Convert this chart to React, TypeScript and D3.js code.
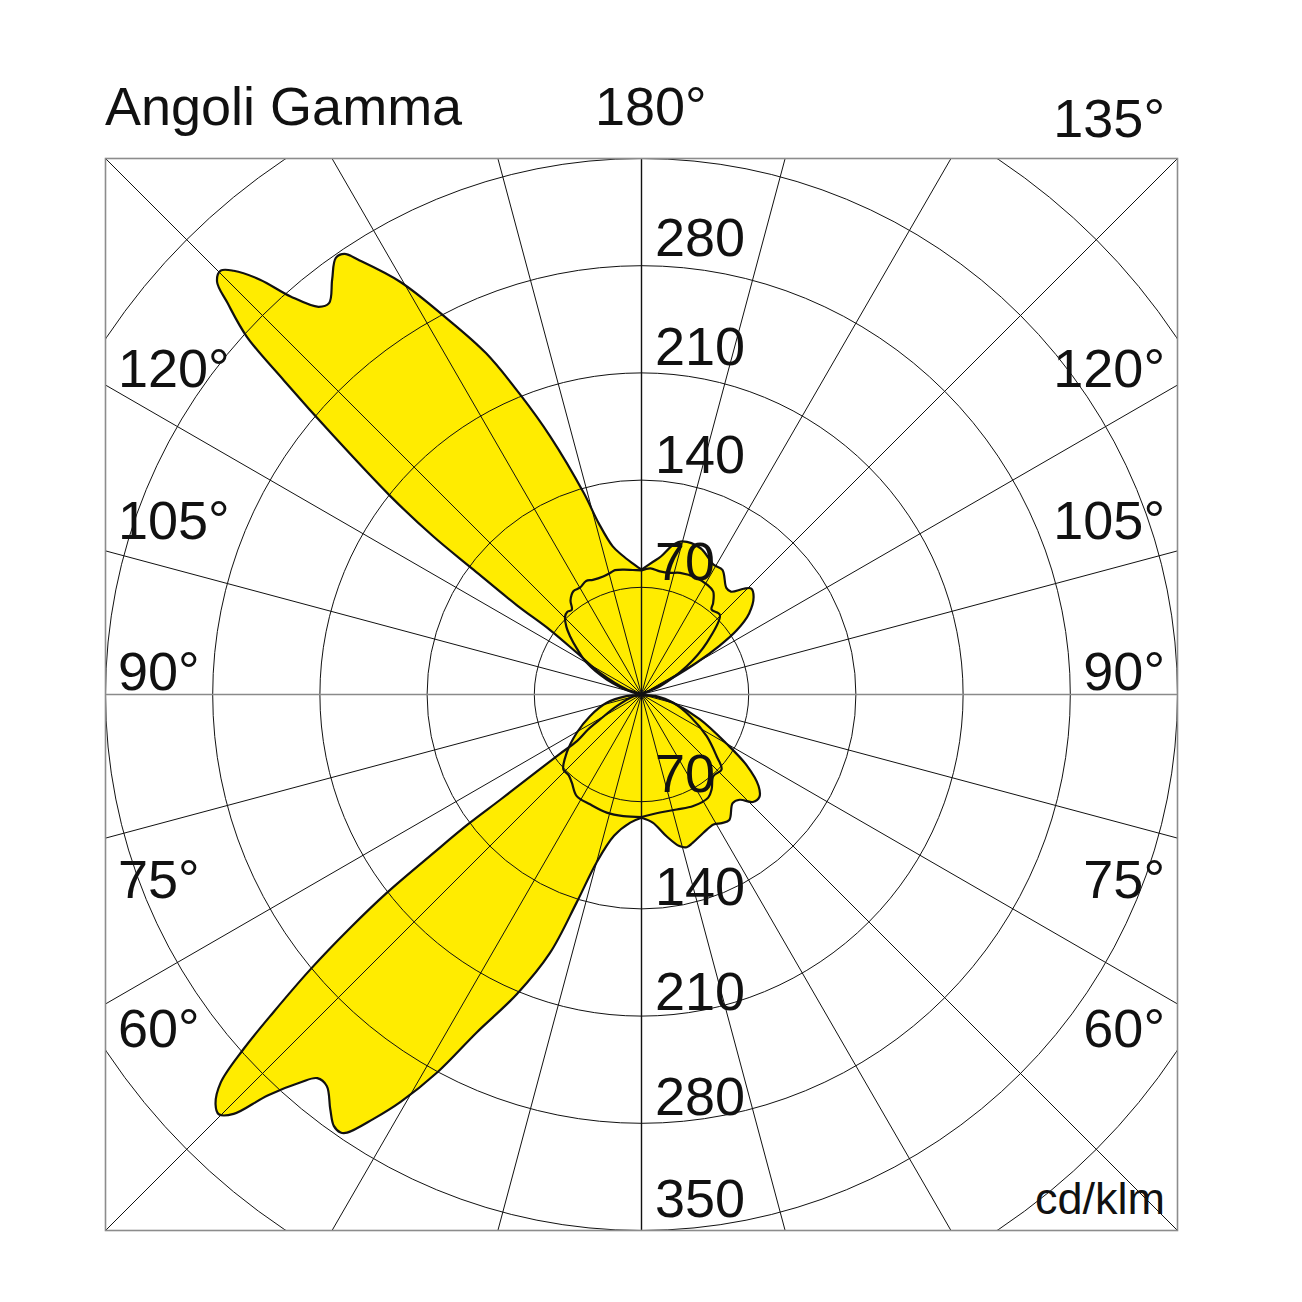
import React from 'react';
import * as d3 from 'd3';

// ---- grid values ----
const RING_VALUES = [70, 140, 210, 280, 350, 420];
const SPOKE_ANGLES = d3.range(0, 360, 15);
const UPPER_RING_LABELS = ['280', '210', '140', '70'];
const LOWER_RING_LABELS = ['70', '140', '210', '280', '350'];
const LEFT_ANGLE_LABELS = ['120°', '105°', '90°', '75°', '60°'];
const RIGHT_ANGLE_LABELS = ['135°', '120°', '105°', '90°', '75°', '60°'];
const TITLE = 'Angoli Gamma';
const TOP_LABEL = '180°';
const UNIT = 'cd/klm';

// ---- curve A (large lobes left, small lobes right) ----
// right side, lower half (gamma 0 -> 90)
const A_RL_G = [0, 5, 10, 14, 16.5, 19, 24, 29, 32, 35, 40, 43, 46, 49, 52, 56, 60, 67, 75, 82, 90];
const A_RL_V = [80.5, 84, 94, 102, 104, 102.5, 99, 97, 99, 100, 92.6, 94, 101, 102, 97, 83, 64, 41.5, 21.5, 8, 0];
// right side, upper half (gamma 90 -> 180)
const A_RU_G = [90, 115, 118, 120, 122, 124, 127, 131, 134, 136, 139, 141.5, 147, 151, 158, 165, 168, 172, 175, 180];
const A_RU_V = [0, 6, 21, 41.5, 60, 75, 88, 97, 99.6, 96, 89, 89, 97, 97, 103, 103.5, 100, 91, 87, 81.5];
// left side, upper half (gamma 180 -> 90)
const A_LU_G = [180, 176, 172, 169, 166, 164, 160.5, 158, 155.5, 152.5, 149.7, 147, 146, 145, 143.3, 141.4, 140.2, 138.6, 137.4, 136.1, 135.2, 134.2, 133.4, 132.2, 131.3, 130, 128.3, 127.2, 126.6, 125.6, 125.2, 122.8, 117.6, 109, 90];
const A_LU_V = [81.5, 86, 92, 98.5, 115, 137, 179, 211, 245, 278, 312, 338, 347, 348, 338, 327, 329.5, 346.5, 368, 384, 390, 386.6, 372, 348, 311, 262, 209, 170.6, 136.7, 100, 73, 50, 30.5, 10, 0];
// left side, lower half (gamma 90 -> 0)
const A_LL_G = [90, 76.8, 64.7, 59, 56.8, 54.2, 54, 53.6, 53.3, 53.2, 52.7, 52.1, 51.3, 50.3, 49.2, 48.3, 47.3, 46.1, 45.2, 44.2, 43, 41.3, 40.2, 38.8, 36.9, 35.5, 34.5, 33.9, 32.3, 30.6, 28.4, 26, 22.6, 19.5, 17.3, 15, 11, 5, 0];
const A_LL_V = [0, 5.7, 17.9, 31.6, 41.7, 52, 66.7, 89, 115, 141.4, 170.6, 210.6, 243.6, 281, 317.5, 348, 374, 386, 389, 382, 358, 337, 328, 328, 338.5, 346, 347, 344.7, 328, 309, 280.6, 245.5, 212, 179, 142, 113.7, 94, 84, 80.5];

// ---- curve B (cup shaped, near symmetric) ----
const B_RL_G = [0, 8.9, 17, 24.9, 32.9, 36.5, 41.3, 46.9, 50.6, 57.4, 65.9, 75.4, 84, 90];
const B_RL_V = [80, 78, 78.5, 80.3, 80.2, 77, 71, 71.6, 63.5, 50.5, 34.7, 21.5, 9, 0];
const B_RU_G = [90, 114, 122, 128.4, 135.5, 140.5, 142, 145.2, 149, 154.7, 162.4, 167, 171.5, 176, 180];
const B_RU_V = [0, 13.2, 34.8, 54.3, 73, 71.9, 76, 82, 83.5, 84.2, 83.3, 81.5, 81.3, 82.5, 81];
const B_LU_G = [180, 176, 172, 168, 165.5, 162, 157, 154, 150, 146.6, 143, 140.6, 138, 135.6, 132, 129.2, 125, 120, 113.3, 103, 90];
const B_LU_V = [81, 81.5, 82.4, 83, 82, 81, 81.3, 82.5, 80.5, 80.8, 77, 71.7, 72.5, 71.3, 66, 60.2, 51, 41.3, 24.7, 5.7, 0];
const B_LL_G = [90, 84, 76.6, 67.2, 59.4, 52.1, 46.2, 42, 38.3, 32.5, 25.1, 16.4, 8.5, 0];
const B_LL_V = [0, 10, 23.4, 36.5, 49.1, 61.9, 70.7, 71, 73.4, 78.7, 79.2, 80.4, 80.3, 80];

const W = 1302;
const CX = 641.5;
const CY = 694.5;
const FRAME = { x: 105.5, y: 158.5, w: 1072, h: 1072 };
const FONT = '"Liberation Sans", Arial, Helvetica, sans-serif';

const r = d3.scaleLinear().domain([0, 350]).range([0, 536]);
const rad = Math.PI / 180;

type Pt = [number, number];
function half(g: number[], v: number[], side: 'L' | 'R'): Pt[] {
  return g.map((gg, i) => [side === 'R' ? Math.PI - gg * rad : Math.PI + gg * rad, r(v[i])] as Pt);
}
function dedupe(pts: Pt[]): Pt[] {
  const out: Pt[] = [];
  pts.forEach((p) => {
    const last = out[out.length - 1];
    if (last && last[1] === 0 && p[1] === 0) return;
    out.push(p);
  });
  return out;
}

const radial = d3
  .lineRadial<Pt>()
  .angle((d) => d[0])
  .radius((d) => d[1])
  .curve(d3.curveCatmullRomClosed.alpha(0.5));

const curveA = dedupe([
  ...half(A_RL_G, A_RL_V, 'R'),
  ...half(A_RU_G, A_RU_V, 'R'),
  ...half(A_LU_G, A_LU_V, 'L'),
  ...half(A_LL_G, A_LL_V, 'L'),
]);
const curveB = dedupe([
  ...half(B_RL_G, B_RL_V, 'R'),
  ...half(B_RU_G, B_RU_V, 'R'),
  ...half(B_LU_G, B_LU_V, 'L'),
  ...half(B_LL_G, B_LL_V, 'L'),
]);

export default function App() {
  const pathA = radial(curveA) || '';
  const pathB = radial(curveB) || '';
  const upperY = [256, 365, 473, 580];
  const lowerY = [792, 905, 1010, 1115, 1217];
  const leftY = [387, 539, 690, 898, 1047];
  const rightY = [137, 387, 539, 690, 898, 1047];
  const fill = '#FFEC00';
  return (
    <svg
      width={W}
      height={W}
      viewBox={`0 0 ${W} ${W}`}
      style={{ position: 'absolute', left: 0, top: 0, background: '#fff' }}
    >
      <defs>
        <clipPath id="frameClip">
          <rect x={FRAME.x} y={FRAME.y} width={FRAME.w} height={FRAME.h} />
        </clipPath>
      </defs>
      <rect x={0} y={0} width={W} height={W} fill="#fff" />
      <g transform={`translate(${CX},${CY})`}>
        <path d={pathA} fill={fill} stroke="none" />
        <path d={pathB} fill={fill} stroke="none" />
      </g>
      <g clipPath="url(#frameClip)">
        <g transform={`translate(${CX},${CY})`}>
          {RING_VALUES.map((v) => (
            <circle key={v} r={r(v)} fill="none" stroke="#111" strokeWidth={1} />
          ))}
          {SPOKE_ANGLES.map((a) => {
            const len = 900;
            const x2 = Math.sin(a * rad) * len;
            const y2 = -Math.cos(a * rad) * len;
            const horiz = a === 90 || a === 270;
            const vert = a === 0 || a === 180;
            return (
              <line
                key={a}
                x1={0}
                y1={0}
                x2={x2}
                y2={y2}
                stroke={horiz ? '#8a8a8a' : '#111'}
                strokeWidth={horiz ? 1.6 : vert ? 1.4 : 1}
              />
            );
          })}
        </g>
      </g>
      <g transform={`translate(${CX},${CY})`}>
        <path d={pathA} fill="none" stroke="#111" strokeWidth={2.2} strokeLinejoin="round" />
        <path d={pathB} fill="none" stroke="#111" strokeWidth={2.2} strokeLinejoin="round" />
      </g>
      <rect
        x={FRAME.x}
        y={FRAME.y}
        width={FRAME.w}
        height={FRAME.h}
        fill="none"
        stroke="#8c8c8c"
        strokeWidth={1.6}
      />
      <g fontFamily={FONT} fill="#111" fontSize={54}>
        <text x={105} y={125}>{TITLE}</text>
        <text x={595} y={125}>{TOP_LABEL}</text>
        {UPPER_RING_LABELS.map((t, i) => (
          <text key={'u' + t} x={655} y={upperY[i]}>{t}</text>
        ))}
        {LOWER_RING_LABELS.map((t, i) => (
          <text key={'l' + t} x={655} y={lowerY[i]}>{t}</text>
        ))}
        {LEFT_ANGLE_LABELS.map((t, i) => (
          <text key={'L' + t} x={118} y={leftY[i]}>{t}</text>
        ))}
        {RIGHT_ANGLE_LABELS.map((t, i) => (
          <text key={'R' + t} x={1165} y={rightY[i]} textAnchor="end">{t}</text>
        ))}
        <text x={1165} y={1214} fontSize={45} textAnchor="end">{UNIT}</text>
      </g>
    </svg>
  );
}
